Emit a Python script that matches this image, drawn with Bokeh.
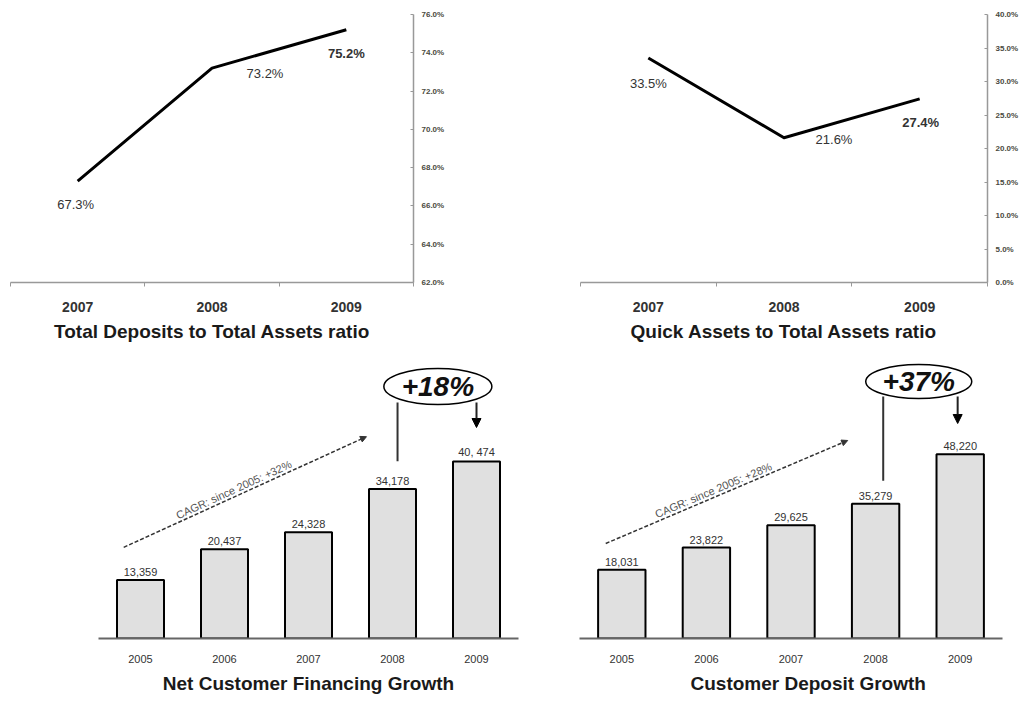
from bokeh.plotting import figure
from bokeh.models import (Range1d, FactorRange, FixedTicker, PrintfTickFormatter,
                          ColumnDataSource, Title, Arrow, NormalHead)
from bokeh.layouts import column, row
from bokeh.embed import file_html
from bokeh.resources import INLINE
from bokeh.core.properties import value

FONT = "Liberation Sans"

# ---------------- data ----------------
ratio_years = ["2007", "2008", "2009"]
deposits_ratio = [67.3, 73.2, 75.2]
quick_ratio = [33.5, 21.6, 27.4]
deposits_ticks = [62, 64, 66, 68, 70, 72, 74, 76]
quick_ticks = [0, 5, 10, 15, 20, 25, 30, 35, 40]

growth_years = ["2005", "2006", "2007", "2008", "2009"]
financing = [13359, 20437, 24328, 34178, 40474]
financing_labels = ["13,359", "20,437", "24,328", "34,178", "40, 474"]
deposits = [18031, 23822, 29625, 35279, 48220]
deposit_labels = ["18,031", "23,822", "29,625", "35,279", "48,220"]
financing_growth = "+18%"
deposit_growth = "+37%"
financing_cagr = "CAGR: since 2005: +32%"
deposit_cagr = "CAGR: since 2005: +28%"


def ratio_chart(title, vals, ticks, ymin, ymax, dx, dy, styles, width, mbl, mbr):
    n = len(ratio_years)
    xs = [i + 0.5 for i in range(n)]
    p = figure(width=width, height=345, x_range=Range1d(0, n), y_range=Range1d(ymin, ymax),
               y_axis_location="right", toolbar_location=None, output_backend="svg",
               min_border_left=mbl, min_border_right=mbr, min_border_top=14, min_border_bottom=63)
    p.grid.visible = False
    p.outline_line_color = None
    p.background_fill_color = "white"
    p.border_fill_color = "white"

    xa = p.xaxis[0]
    xa.ticker = FixedTicker(ticks=xs, minor_ticks=list(range(n + 1)))
    xa.major_label_overrides = {x: y for x, y in zip(xs, ratio_years)}
    xa.major_tick_line_color = None
    xa.major_tick_out = 0
    xa.major_tick_in = 0
    xa.minor_tick_line_color = "#999999"
    xa.minor_tick_out = 4
    xa.minor_tick_in = 0
    xa.axis_line_color = "#999999"
    xa.axis_line_width = 1.5
    xa.major_label_text_font = FONT
    xa.major_label_text_font_size = "14px"
    xa.major_label_text_font_style = "bold"
    xa.major_label_text_color = "#333333"
    xa.major_label_standoff = 15

    ya = p.yaxis[0]
    ya.ticker = FixedTicker(ticks=ticks)
    ya.formatter = PrintfTickFormatter(format="%.1f%%")
    ya.major_tick_in = 3
    ya.major_tick_out = 0
    ya.minor_tick_line_color = None
    ya.axis_line_color = "#999999"
    ya.axis_line_width = 1.5
    ya.major_tick_line_color = "#999999"
    ya.major_label_text_font = FONT
    ya.major_label_text_font_size = "8px"
    ya.major_label_text_font_style = "bold"
    ya.major_label_text_color = "#4a4a40"
    ya.major_label_standoff = 8

    p.line(xs, vals, line_width=3, line_color="black", line_join="round")

    src = ColumnDataSource(dict(x=xs, y=vals, text=["%.1f%%" % v for v in vals],
                                dx=dx, dy=dy, style=styles))
    p.text(x="x", y="y", text="text", x_offset="dx", y_offset="dy",
           text_font_style="style", text_align="center", text_baseline="middle",
           text_font=value(FONT), text_font_size="13px", text_color="#333333", source=src)

    p.add_layout(Title(text=title, align="center", text_font=FONT, text_font_size="19px",
                       text_font_style="bold", text_color="#1a1a1a", standoff=8), "below")
    return p


def growth_chart(title, vals, labels, growth, cagr, width, mbl, mbr, ymax, ann, talign, toff):
    p = figure(width=width, height=357, x_range=FactorRange(factors=growth_years),
               y_range=Range1d(0, ymax), y_axis_location=None,
               toolbar_location=None, output_backend="svg",
               min_border_left=mbl, min_border_right=mbr, min_border_top=1, min_border_bottom=64)
    p.grid.visible = False
    p.outline_line_color = None
    p.background_fill_color = "white"
    p.border_fill_color = "white"

    xa = p.xaxis[0]
    xa.axis_line_color = "#666666"
    xa.axis_line_width = 2
    xa.major_tick_line_color = None
    xa.major_tick_out = 0
    xa.major_tick_in = 0
    xa.major_label_text_font = FONT
    xa.major_label_text_font_size = "11px"
    xa.major_label_text_color = "#333333"
    xa.major_label_standoff = 16

    p.vbar(x=growth_years, top=vals, width=0.56, bottom=0,
           fill_color="#e0e0e0", line_color="black", line_width=2)
    p.text(x=growth_years, y=vals, text=labels, y_offset=-4,
           text_align="center", text_baseline="bottom",
           text_font=value(FONT), text_font_size="11px", text_color="#333333")

    # growth callout: line from 2008 bar up to ellipse, arrow down to 2009 bar
    p.segment(x0=[ann["vx"]], y0=[vals[3] + ann["vgap"]], x1=[ann["vx"]], y1=[ann["top"]],
              line_color="#333333", line_width=2)
    p.add_layout(Arrow(end=NormalHead(size=9, fill_color="black", line_color="black"),
                       x_start=ann["ax"], y_start=ann["top"], x_end=ann["ax"],
                       y_end=vals[4] + ann["agap"], line_width=2, line_color="#222222"))
    p.ellipse(x=[ann["ex"]], y=[ann["ey"]], width=ann["ew"], height=ann["eh"],
              width_units="screen", height_units="screen",
              fill_color="white", line_color="black", line_width=1.5)
    p.text(x=[ann["ex"]], y=[ann["ey"]], text=[growth], text_align="center",
           text_baseline="middle", text_font=value(FONT), text_font_size="28px",
           text_font_style="bold italic", text_color="#111111")

    # CAGR dashed arrow
    x0, y0 = ann["c0"][0], vals[0] + ann["c0"][1]
    x1, y1 = ann["c1"][0], vals[3] + ann["c1"][1]
    p.add_layout(Arrow(end=NormalHead(size=6, fill_color="#333333", line_color="#333333"),
                       x_start=x0, y_start=y0, x_end=x1, y_end=y1,
                       line_dash="4 2", line_width=1.5, line_color="#333333"))
    tx = ann["tx"]
    ty = y0 + (y1 - y0) * (tx - x0) / (x1 - x0)
    p.text(x=[tx], y=[ty], text=[cagr], angle=ann["ang"], y_offset=-1,
           text_align="center", text_baseline="bottom",
           text_font=value(FONT), text_font_size="11px", text_color="#555555")

    p.add_layout(Title(text=title, align=talign, offset=toff, text_font=FONT,
                       text_font_size="19px", text_font_style="bold",
                       text_color="#1a1a1a", standoff=10), "below")
    return p


p1 = ratio_chart("Total Deposits to Total Assets ratio", deposits_ratio, deposits_ticks, 62, 76,
                 [-2, 53, 0], [23, 5, 24], ["normal", "normal", "bold"], 514, 10, 101)
p2 = ratio_chart("Quick Assets to Total Assets ratio", quick_ratio, quick_ticks, 0, 40,
                 [0, 50, 1], [25, 2, 24], ["normal", "normal", "bold"], 514, 66, 41)

ann_fin = dict(vx=3.56, vgap=6400, top=54000, ax=4.5, agap=7800,
               ex=4.04, ey=57650, ew=108, eh=36,
               c0=(0.30, 7500), c1=(3.19, 12000), tx=1.64, ang=0.43)
ann_dep = dict(vx=3.59, vgap=6000, top=63350, ax=4.47, agap=8070,
               ex=4.01, ey=67280, ew=106, eh=34,
               c0=(0.31, 6840), c1=(3.17, 16560), tx=1.61, ang=0.40)

p3 = growth_chart("Net Customer Financing Growth", financing, financing_labels,
                  financing_growth, financing_cagr, 520, 98, 2, 66810, ann_fin, "center", 0)
p4 = growth_chart("Customer Deposit Growth", deposits, deposit_labels,
                  deposit_growth, deposit_cagr, 508, 59, 26, 76445, ann_dep, "left", 111)

layout = column(row(p1, p2), row(p3, p4))
open("out.html", "w").write(file_html(layout, INLINE))
